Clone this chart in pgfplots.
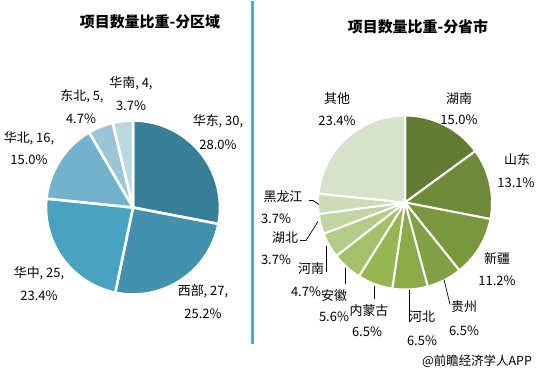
\documentclass[border=0pt]{standalone}
\usepackage{pgfplots}
\pgfplotsset{compat=1.18}
\usepackage{fontspec}
\setmainfont{Noto Sans CJK SC}

\definecolor{hd}{HTML}{387E96}
\definecolor{xb}{HTML}{4291AD}
\definecolor{hz}{HTML}{4AA2C1}
\definecolor{hb}{HTML}{72B2CA}
\definecolor{db}{HTML}{9CC5D5}
\definecolor{hn}{HTML}{BBD8E3}
\definecolor{divider}{HTML}{5AA5CC}

\definecolor{g1}{HTML}{637C33}
\definecolor{g2}{HTML}{6F8B3A}
\definecolor{g3}{HTML}{7A973F}
\definecolor{g4}{HTML}{82A044}
\definecolor{g5}{HTML}{8DAA4A}
\definecolor{g6}{HTML}{97B652}
\definecolor{g7}{HTML}{A5C06A}
\definecolor{g8}{HTML}{B4CB8A}
\definecolor{g9}{HTML}{C2D4A2}
\definecolor{g10}{HTML}{CDDBB6}
\definecolor{g11}{HTML}{D8E1C9}

% #1 cx, #2 cy, #3 r, #4 from (cumulative count), #5 to, #6 total, #7 colour, #8 gap width
\newcommand\pieslice[8]{%
  \pgfmathsetmacro\sa{90-#4*(360/#6)}%
  \pgfmathsetmacro\sb{90-#5*(360/#6)}%
  \edef\temp{\noexpand\addplot[fill=#7, draw=white, line width=#8, line join=round,
    domain=\sb:\sa, samples=60, variable=\noexpand\t]
    ({#1+#3*cos(\noexpand\t)},{#2-#3*sin(\noexpand\t)}) -- (axis cs:#1,#2) -- cycle;}%
  \temp}

\newcommand\lab{\fontsize{13}{15}\selectfont}
\newcommand\ttl{\fontsize{15}{17}\selectfont\bfseries}

\begin{document}
\begin{tikzpicture}
\begin{axis}[
  scale only axis, width=538bp, height=374bp,
  xmin=0, xmax=538, ymin=0, ymax=374, y dir=reverse,
  hide axis, clip=false]

% divider
\addplot[divider, line width=3bp] coordinates {(252,0) (252,342)};

% left pie: counts 30,27,25,16,5,4 (total 107)
\pieslice{133}{206}{87}{0}{30}{107}{hd}{2.6bp}
\pieslice{133}{206}{87}{30}{57}{107}{xb}{2.6bp}
\pieslice{133}{206}{87}{57}{82}{107}{hz}{2.6bp}
\pieslice{133}{206}{87}{82}{98}{107}{hb}{2.6bp}
\pieslice{133}{206}{87}{98}{103}{107}{db}{2.6bp}
\pieslice{133}{206}{87}{103}{107}{107}{hn}{2.6bp}

% right pie: counts 16,14,12,7,7,7,6,5,4,4,25 (total 107)
\pieslice{405}{201}{87}{0}{16}{107}{g1}{2bp}
\pieslice{405}{201}{87}{16}{30}{107}{g2}{2bp}
\pieslice{405}{201}{87}{30}{42}{107}{g3}{2bp}
\pieslice{405}{201}{87}{42}{49}{107}{g4}{2bp}
\pieslice{405}{201}{87}{49}{56}{107}{g5}{2bp}
\pieslice{405}{201}{87}{56}{63}{107}{g6}{2bp}
\pieslice{405}{201}{87}{63}{69}{107}{g7}{2bp}
\pieslice{405}{201}{87}{69}{74}{107}{g8}{2bp}
\pieslice{405}{201}{87}{74}{78}{107}{g9}{2bp}
\pieslice{405}{201}{87}{78}{82}{107}{g10}{2bp}
\pieslice{405}{201}{87}{82}{107}{107}{g11}{2bp}

% leader lines (right pie)
\addplot[black, line width=0.7bp] coordinates {(309,199) (313,199) (319,203)};
\addplot[black, line width=0.7bp] coordinates {(300,239) (306,239) (318,220)};
\addplot[black, line width=0.7bp] coordinates {(326,244) (326,270)};
\addplot[black, line width=0.7bp] coordinates {(345,266) (345,282)};
\addplot[black, line width=0.7bp] coordinates {(374,284) (374,297)};
\addplot[black, line width=0.7bp] coordinates {(409,288) (409,320)};
\addplot[black, line width=0.7bp] coordinates {(444,278) (450,303)};

% titles
\node[font=\ttl] at (axis cs:150,20) {项目数量比重-分区域};
\node[font=\ttl] at (axis cs:418,25) {项目数量比重-分省市};

% left labels
\node[font=\lab] at (axis cs:131,82) {华南, 4,};
\node[font=\lab] at (axis cs:131,104) {3.7\%};
\node[font=\lab] at (axis cs:82,95) {东北, 5,};
\node[font=\lab] at (axis cs:81,117) {4.7\%};
\node[font=\lab] at (axis cs:29,137) {华北, 16,};
\node[font=\lab] at (axis cs:29,158) {15.0\%};
\node[font=\lab] at (axis cs:218,120) {华东, 30,};
\node[font=\lab] at (axis cs:218,143) {28.0\%};
\node[font=\lab] at (axis cs:39,272) {华中, 25,};
\node[font=\lab] at (axis cs:39,294) {23.4\%};
\node[font=\lab] at (axis cs:203,290) {西部, 27,};
\node[font=\lab] at (axis cs:203,312) {25.2\%};

% right labels
\node[font=\lab] at (axis cs:459,97) {湖南};
\node[font=\lab] at (axis cs:459,118) {15.0\%};
\node[font=\lab] at (axis cs:337,97) {其他};
\node[font=\lab] at (axis cs:337,119) {23.4\%};
\node[font=\lab] at (axis cs:517,158) {山东};
\node[font=\lab] at (axis cs:516,181) {13.1\%};
\node[font=\lab] at (axis cs:497,257) {新疆};
\node[font=\lab] at (axis cs:497,279) {11.2\%};
\node[font=\lab] at (axis cs:464,305) {贵州};
\node[font=\lab] at (axis cs:464,329) {6.5\%};
\node[font=\lab] at (axis cs:422,315) {河北};
\node[font=\lab] at (axis cs:422,339) {6.5\%};
\node[font=\lab] at (axis cs:369,309) {内蒙古};
\node[font=\lab] at (axis cs:367,330) {6.5\%};
\node[font=\lab] at (axis cs:334,294) {安徽};
\node[font=\lab] at (axis cs:334,315) {5.6\%};
\node[font=\lab] at (axis cs:311,267) {河南};
\node[font=\lab] at (axis cs:306,290) {4.7\%};
\node[font=\lab] at (axis cs:285,236) {湖北};
\node[font=\lab] at (axis cs:276,258) {3.7\%};
\node[font=\lab] at (axis cs:283,195) {黑龙江};
\node[font=\lab] at (axis cs:276,217) {3.7\%};

% source
\node[font=\fontsize{12.5}{14}\selectfont] at (axis cs:477,360) {@前瞻经济学人APP};
\end{axis}
\path (0,0) rectangle (538bp,374bp);
\end{tikzpicture}
\end{document}
